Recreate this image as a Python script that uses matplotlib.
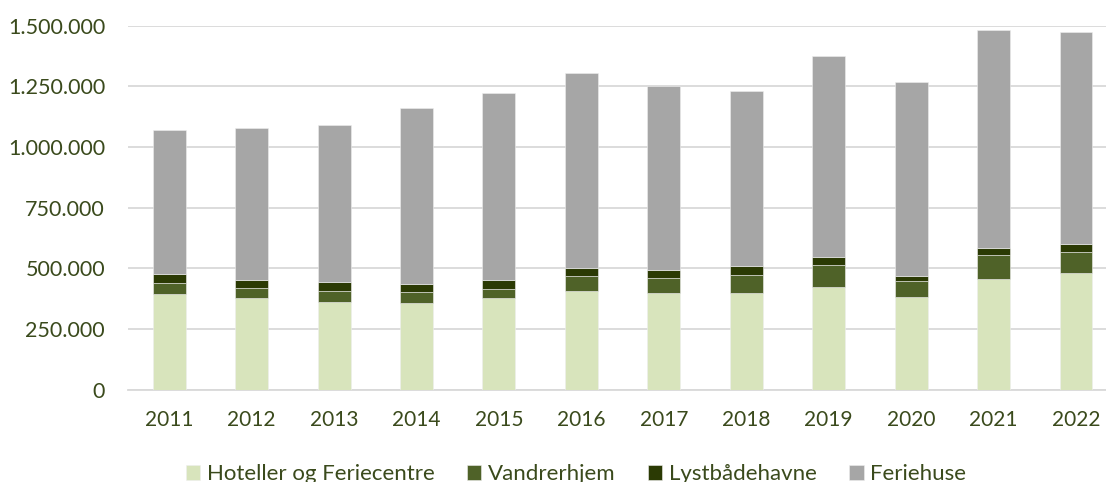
import numpy as np
import matplotlib
matplotlib.use("Agg")
import matplotlib.pyplot as plt
from matplotlib.ticker import FuncFormatter

years = ["2011", "2012", "2013", "2014", "2015", "2016",
         "2017", "2018", "2019", "2020", "2021", "2022"]
hoteller = [394000, 376000, 360000, 357000, 376000, 408000,
            398000, 398000, 424000, 380000, 456000, 479000]
vandrerhjem = [44000, 44000, 45000, 43000, 40000, 58000,
               63000, 74000, 88000, 66000, 97000, 87000]
lystbaadehavne = [38000, 33000, 37000, 35000, 36000, 35000,
                  32000, 36000, 35000, 21000, 29000, 34000]
feriehuse = [593000, 624000, 647000, 724000, 769000, 802000,
             757000, 721000, 827000, 799000, 899000, 873000]

series = [("Hoteller og Feriecentre", hoteller, "#D8E4BC"),
          ("Vandrerhjem", vandrerhjem, "#4F6228"),
          ("Lystbådehavne", lystbaadehavne, "#2B3A04"),
          ("Feriehuse", feriehuse, "#A6A6A6")]

txt = "#3A4A1C"
plt.rcParams['font.family'] = ['Lato', 'DejaVu Sans']

W, H = 1106, 482
fig = plt.figure(figsize=(W / 100, H / 100), dpi=100)
ax = fig.add_axes([128 / W, (H - 389.5) / H, (W - 128) / W, 363.8 / H])

x = np.arange(len(years))
bottom = np.zeros(len(years))
for name, vals, col in series:
    ax.bar(x, vals, width=0.4, bottom=bottom, color=col, label=name,
           edgecolor="#EEEEEE", linewidth=0.4, zorder=3)
    bottom += np.array(vals)

ax.set_ylim(0, 1500000)
ax.set_xlim(-0.5, 11.364)
ax.set_yticks(np.arange(0, 1500001, 250000))
ax.yaxis.set_major_formatter(FuncFormatter(lambda v, p: f"{int(v):,}".replace(",", ".")))
ax.set_xticks(x)
ax.set_xticklabels(years)
ax.grid(axis="y", color="#D9D9D9", linewidth=1.3, zorder=0)
for s in ["top", "right", "left"]:
    ax.spines[s].set_visible(False)
ax.spines["bottom"].set_color("#D9D9D9")
ax.spines["bottom"].set_linewidth(1.3)
ax.tick_params(axis="both", length=0, labelsize=15, colors=txt)
ax.tick_params(axis="y", pad=16.5, labelsize=15.5)
ax.tick_params(axis="x", pad=15)

leg = fig.legend(loc="center", bbox_to_anchor=(576 / W, (H - 474) / H), ncol=4,
                 frameon=False, fontsize=16, handlelength=0.65, handleheight=0.65,
                 handletextpad=0.3, columnspacing=1.45)
for t in leg.get_texts():
    t.set_color(txt)

fig.savefig("out.png", dpi=100)
